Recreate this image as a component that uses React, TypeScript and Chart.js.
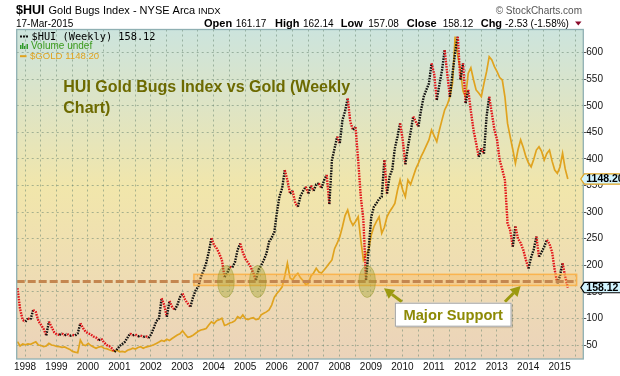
import React, { useEffect, useRef } from 'react';
import { Chart, registerables } from 'chart.js';

Chart.register(...registerables);

const FONT = '"Liberation Sans", Arial, Helvetica, sans-serif';

// Monthly samples, starting at SERIES_START (fractional year)
const SERIES_START = 1997.76;
const SERIES_STEP = 1 / 12;

const HUI = [
  157, 118, 97,
  94, 100, 98, 116, 112, 95, 88, 80, 68, 94, 84, 74,
  70, 69, 72, 68, 71, 67, 69, 68, 72, 91, 82, 75,
  72, 70, 66, 64, 59, 62, 55, 50, 48, 44, 37, 42,
  48, 52, 56, 64, 72, 68, 70, 66, 68, 65, 67, 63,
  70, 82, 95, 100, 138, 125, 103, 133, 122, 116, 125, 140,
  147, 135, 128, 122, 140, 153, 160, 178, 190, 204, 225, 251,
  238, 232, 222, 210, 178, 185, 197, 196, 206, 229, 241, 224,
  212, 205, 197, 185, 172, 192, 200, 210, 222, 244, 252, 262,
  300, 330, 345, 379, 360, 335, 340, 317, 310, 330, 340, 348,
  335, 350, 340, 352, 354, 345, 360, 370, 315, 398, 420, 442,
  430, 473, 490, 514, 470, 455, 460, 398, 329, 285, 172, 230,
  291, 310, 317, 325, 329, 398, 335, 367, 380, 420, 442, 467,
  436, 390, 423, 450, 480, 470, 461, 492, 517, 530, 542, 580,
  560, 511, 540, 567, 605, 560, 517, 561, 600, 630, 549, 580,
  505, 530, 490, 455, 430, 404, 420, 410, 480, 517, 486, 455,
  436, 398, 380, 360, 279, 266, 235, 273, 250, 242, 229, 210,
  194, 215, 230, 254, 216, 225, 235, 248, 240, 225, 191, 166,
  180, 204, 179, 158,
];

const GOLD = [
  312, 290, 300,
  296, 300, 298, 305, 311, 295, 292, 286, 290, 303, 295, 292,
  287, 286, 283, 285, 278, 272, 262, 258, 255, 320, 296, 292,
  303, 292, 285, 278, 284, 288, 278, 276, 270, 266, 262, 268,
  260, 262, 258, 268, 272, 278, 274, 282, 286, 278, 284, 288,
  291, 296, 303, 310, 318, 314, 324, 318, 328, 337, 346, 352,
  368, 350, 334, 338, 345, 355, 365, 372, 375, 380, 398, 414,
  405, 420, 425, 432, 395, 400, 408, 412, 420, 440, 432, 449,
  430, 425, 432, 435, 425, 428, 450, 458, 465, 475, 500, 540,
  560, 575, 594, 650, 715, 640, 629, 650, 663, 640, 625, 605,
  612, 650, 665, 689, 670, 665, 680, 697, 715, 732, 790, 818,
  852, 903, 960, 989, 937, 910, 930, 954, 835, 732, 760, 783,
  860, 903, 930, 954, 869, 900, 954, 980, 1000, 1023, 1090, 1143,
  1092, 1057, 1143, 1120, 1160, 1200, 1230, 1263, 1290, 1320, 1349, 1400,
  1370, 1340, 1400, 1452, 1503, 1530, 1571, 1640, 1880, 1780, 1709, 1600,
  1571, 1692, 1720, 1660, 1606, 1590, 1571, 1640, 1700, 1777, 1760, 1726,
  1700, 1670, 1657, 1571, 1434, 1366, 1300, 1229, 1300, 1349, 1310, 1263,
  1230, 1211, 1250, 1297, 1314, 1290, 1246, 1280, 1297, 1240, 1194, 1177,
  1210, 1280, 1200, 1148,
];

const YEAR_LABELS = [1998, 1999, 2000, 2001, 2002, 2003, 2004, 2005, 2006, 2007, 2008, 2009, 2010, 2011, 2012, 2013, 2014, 2015];
const PRICE_TICKS = [50, 100, 150, 200, 250, 300, 350, 400, 450, 500, 550, 600];

const HUI_LAST = 158.12;
const GOLD_LAST = 1148.2;

const X_RANGE = [1997.736, 2015.752];
const HUI_RANGE = [23.7, 643.6];
const GOLD_RANGE = [222.8, 1916.8];

const SUPPORT_LEVEL = 169.5;
const SUPPORT_BAND = [162, 183];
const SUPPORT_SPAN = [2003.37, 2015.54];
const SUPPORT_TOUCHES = [2004.39, 2005.4, 2008.88];
const TOUCH_RADIUS = [0.265, 30];
const NOTE_BOX = [2009.76, 2013.47, 129.6, 84.5];
const NOTE_ARROWS = [
  [2009.98, 131.4, 2009.415, 156.7],
  [2013.26, 131.4, 2013.76, 161.1],
];

function txt(ctx: any, s: string, x: number, y: number, font: string, color: string, align: any = 'left') {
  ctx.font = font;
  ctx.fillStyle = color;
  ctx.textAlign = align;
  ctx.textBaseline = 'alphabetic';
  ctx.fillText(s, x, y);
}

function arrow(ctx: any, x0: number, y0: number, x1: number, y1: number, color: string) {
  const ang = Math.atan2(y1 - y0, x1 - x0);
  const head = 10;
  const hw = 5.5;
  const bx = x1 - Math.cos(ang) * head;
  const by = y1 - Math.sin(ang) * head;
  ctx.strokeStyle = color;
  ctx.lineWidth = 3;
  ctx.beginPath();
  ctx.moveTo(x0, y0);
  ctx.lineTo(bx, by);
  ctx.stroke();
  ctx.fillStyle = color;
  ctx.beginPath();
  ctx.moveTo(x1, y1);
  ctx.lineTo(bx + Math.sin(ang) * hw, by - Math.cos(ang) * hw);
  ctx.lineTo(bx - Math.sin(ang) * hw, by + Math.cos(ang) * hw);
  ctx.closePath();
  ctx.fill();
}

function badge(ctx: any, right: number, y: number, label: string, border: string) {
  const tip = right - 2.5;
  const l = right + 1;
  const r = right + 40;
  const h = 5.2;
  ctx.beginPath();
  ctx.moveTo(tip, y);
  ctx.lineTo(l, y - h);
  ctx.lineTo(r, y - h);
  ctx.lineTo(r, y + h);
  ctx.lineTo(l, y + h);
  ctx.closePath();
  ctx.fillStyle = '#d2f4ff';
  ctx.fill();
  ctx.strokeStyle = border;
  ctx.lineWidth = 1.2;
  ctx.stroke();
  ctx.font = 'bold 10.5px ' + FONT;
  ctx.fillStyle = '#000';
  ctx.textAlign = 'left';
  ctx.textBaseline = 'middle';
  ctx.fillText(label, l + 2, y + 0.5);
}

const decor = {
  id: 'decor',
  beforeDraw(chart: any) {
    const { ctx, chartArea: a } = chart;
    ctx.save();
    ctx.fillStyle = '#ffffff';
    ctx.fillRect(0, 0, chart.width, chart.height);
    const g = ctx.createLinearGradient(0, a.top, 0, a.bottom);
    g.addColorStop(0, '#cce4dd');
    g.addColorStop(0.22, '#dde4c6');
    g.addColorStop(0.48, '#f1e6ab');
    g.addColorStop(0.7, '#efdeb2');
    g.addColorStop(1, '#ebd3ba');
    ctx.fillStyle = g;
    ctx.fillRect(a.left, a.top, a.right - a.left, a.bottom - a.top);
    ctx.restore();
  },
  afterDatasetsDraw(chart: any) {
    const { ctx, chartArea: a } = chart;
    const xs = chart.scales.x;
    const ys = chart.scales.y;
    ctx.save();
    const bx0 = xs.getPixelForValue(SUPPORT_SPAN[0]);
    const bx1 = xs.getPixelForValue(SUPPORT_SPAN[1]);
    const by0 = ys.getPixelForValue(SUPPORT_BAND[1]);
    const by1 = ys.getPixelForValue(SUPPORT_BAND[0]);
    ctx.fillStyle = 'rgba(255,178,70,0.32)';
    ctx.fillRect(bx0, by0, bx1 - bx0, by1 - by0);
    ctx.strokeStyle = 'rgba(252,172,60,0.8)';
    ctx.lineWidth = 1.5;
    ctx.strokeRect(bx0, by0, bx1 - bx0, by1 - by0);

    const sy = ys.getPixelForValue(SUPPORT_LEVEL);
    ctx.setLineDash([8, 3]);
    ctx.strokeStyle = '#c4864f';
    ctx.lineWidth = 3;
    ctx.beginPath();
    ctx.moveTo(a.left, sy);
    ctx.lineTo(bx1 - 3, sy);
    ctx.stroke();
    ctx.setLineDash([]);

    for (const t of SUPPORT_TOUCHES) {
      const cx = xs.getPixelForValue(t);
      const rx = cx - xs.getPixelForValue(t - TOUCH_RADIUS[0]);
      const ry = ys.getPixelForValue(SUPPORT_LEVEL - TOUCH_RADIUS[1]) - sy;
      ctx.beginPath();
      ctx.ellipse(cx, sy, rx, ry, 0, 0, Math.PI * 2);
      ctx.fillStyle = 'rgba(160,160,45,0.4)';
      ctx.fill();
      ctx.strokeStyle = 'rgba(150,150,40,0.45)';
      ctx.lineWidth = 1;
      ctx.stroke();
    }
    ctx.restore();
  },
  afterDraw(chart: any) {
    const { ctx, chartArea: a } = chart;
    const xs = chart.scales.x;
    const ys = chart.scales.y;
    const yg = chart.scales.yg;
    ctx.save();

    // frame
    ctx.strokeStyle = '#8fb0b3';
    ctx.lineWidth = 1.3;
    ctx.strokeRect(a.left, a.top, a.right - a.left, a.bottom - a.top);

    // header
    txt(ctx, '$HUI', 16, 13.5, 'bold 12.5px ' + FONT, '#000');
    txt(ctx, 'Gold Bugs Index - NYSE Arca', 48.5, 13.5, '11px ' + FONT, '#000');
    txt(ctx, 'INDX', 198, 13.5, '9.5px ' + FONT, '#000');
    txt(ctx, '\u00A9 StockCharts.com', 582, 13.5, '10px ' + FONT, '#555', 'right');
    txt(ctx, '17-Mar-2015', 16, 26.5, '10px ' + FONT, '#000');
    txt(ctx, 'Open', 204, 26.5, 'bold 11px ' + FONT, '#000');
    txt(ctx, '161.17', 235.7, 26.5, '10px ' + FONT, '#000');
    txt(ctx, 'High', 275, 26.5, 'bold 11px ' + FONT, '#000');
    txt(ctx, '162.14', 303, 26.5, '10px ' + FONT, '#000');
    txt(ctx, 'Low', 340.7, 26.5, 'bold 11px ' + FONT, '#000');
    txt(ctx, '157.08', 368.3, 26.5, '10px ' + FONT, '#000');
    txt(ctx, 'Close', 406.7, 26.5, 'bold 11px ' + FONT, '#000');
    txt(ctx, '158.12', 442.7, 26.5, '10px ' + FONT, '#000');
    txt(ctx, 'Chg', 480.7, 26.5, 'bold 11px ' + FONT, '#000');
    txt(ctx, '-2.53 (-1.58%)', 505, 26.5, '10px ' + FONT, '#000');
    ctx.fillStyle = '#8a0a2a';
    ctx.beginPath();
    ctx.moveTo(575, 21.5);
    ctx.lineTo(581.5, 21.5);
    ctx.lineTo(578.25, 25.5);
    ctx.closePath();
    ctx.fill();

    // legend
    ctx.fillStyle = '#111';
    for (const dx of [20, 23, 26]) ctx.fillRect(dx, 35.5, 2, 2);
    txt(ctx, '$HUI (Weekly) 158.12', 31.5, 39.5, '10.3px "DejaVu Sans Mono", monospace', '#000');
    ctx.fillStyle = '#2f9a2a';
    const bars = [[20, 4], [22, 6], [24, 3], [26.5, 5]];
    for (const [bx, bh] of bars) ctx.fillRect(bx, 49 - bh, 1.5, bh);
    txt(ctx, 'Volume undef', 31, 49.3, '10px ' + FONT, '#3a9a1c');
    ctx.fillStyle = '#e0a31f';
    ctx.fillRect(20, 55.2, 6.5, 2);
    txt(ctx, '$GOLD 1148.20', 30, 59.3, '9.6px ' + FONT, '#e0a31f');

    // title
    txt(ctx, 'HUI Gold Bugs Index vs Gold (Weekly', 63.3, 92.3, 'bold 16px ' + FONT, '#6d6a00');
    txt(ctx, 'Chart)', 63.3, 113.3, 'bold 16px ' + FONT, '#6d6a00');

    // note box
    const nx0 = xs.getPixelForValue(NOTE_BOX[0]);
    const nx1 = xs.getPixelForValue(NOTE_BOX[1]);
    const ny0 = ys.getPixelForValue(NOTE_BOX[2]);
    const ny1 = ys.getPixelForValue(NOTE_BOX[3]);
    for (const ar of NOTE_ARROWS) {
      arrow(ctx, xs.getPixelForValue(ar[0]), ys.getPixelForValue(ar[1]), xs.getPixelForValue(ar[2]), ys.getPixelForValue(ar[3]), '#9c9a10');
    }
    ctx.fillStyle = 'rgba(0,0,0,0.12)';
    ctx.fillRect(nx0 + 1.5, ny0 + 1.5, nx1 - nx0, ny1 - ny0);
    ctx.fillStyle = '#ffffff';
    ctx.fillRect(nx0, ny0, nx1 - nx0, ny1 - ny0);
    ctx.strokeStyle = '#a0a0a0';
    ctx.lineWidth = 1;
    ctx.strokeRect(nx0 + 0.5, ny0 + 0.5, nx1 - nx0 - 1, ny1 - ny0 - 1);
    txt(ctx, 'Major Support', (nx0 + nx1) / 2, ny0 + 17, 'bold 14.7px ' + FONT, '#8d8a05', 'center');

    // value badges
    badge(ctx, a.right, yg.getPixelForValue(GOLD_LAST), '1148.20', '#e0a31f');
    badge(ctx, a.right, ys.getPixelForValue(HUI_LAST), '158.12', '#000');

    ctx.restore();
  },
};

export default function App() {
  const ref = useRef<HTMLCanvasElement | null>(null);
  useEffect(() => {
    const canvas = ref.current;
    if (!canvas) return;
    const huiPts = HUI.map((v, i) => ({ x: SERIES_START + i * SERIES_STEP, y: v }));
    const goldPts = GOLD.map((v, i) => ({ x: SERIES_START + i * SERIES_STEP, y: v }));
    const gridTicks = YEAR_LABELS.flatMap((y) => [y, y + 0.5]);
    const gridColor = 'rgba(105,135,115,0.55)';
    const chart = new Chart(canvas, {
      type: 'line',
      data: {
        datasets: [
          {
            label: '$HUI (Weekly)',
            data: huiPts,
            yAxisID: 'y',
            borderColor: '#111',
            borderWidth: 2.4,
            borderDash: [1.6, 1.1],
            pointRadius: 0,
            tension: 0,
            segment: {
              borderColor: (c: any) => (c.p1.parsed.y >= c.p0.parsed.y ? '#111111' : '#e2141a'),
            },
          },
          {
            label: '$GOLD',
            data: goldPts,
            yAxisID: 'yg',
            borderColor: '#e0a31f',
            borderWidth: 1.7,
            pointRadius: 0,
            tension: 0,
          },
        ],
      },
      options: {
        animation: false,
        responsive: false,
        maintainAspectRatio: false,
        devicePixelRatio: 1,
        layout: { padding: { left: 16.7, top: 29.5, right: 0, bottom: 0 } },
        plugins: { legend: { display: false }, tooltip: { enabled: false } },
        scales: {
          x: {
            type: 'linear',
            position: 'bottom',
            min: X_RANGE[0],
            max: X_RANGE[1],
            afterBuildTicks: (s: any) => {
              s.ticks = gridTicks.map((v) => ({ value: v }));
            },
            afterFit: (s: any) => {
              s.height = 17;
            },
            ticks: {
              autoSkip: false,
              maxRotation: 0,
              padding: 2,
              color: '#111',
              font: { family: FONT, size: 10 },
              callback: (v: any) => (Number.isInteger(v) ? String(v) : ''),
            },
            grid: { color: gridColor, lineWidth: 1, drawTicks: false },
            border: { display: false, dash: [2, 3] },
          },
          y: {
            type: 'linear',
            position: 'right',
            min: HUI_RANGE[0],
            max: HUI_RANGE[1],
            afterBuildTicks: (s: any) => {
              s.ticks = PRICE_TICKS.map((v) => ({ value: v }));
            },
            afterFit: (s: any) => {
              s.width = 36.7;
            },
            ticks: {
              padding: 0,
              color: '#111',
              font: { family: FONT, size: 10 },
              callback: (v: any) => String(v),
            },
            grid: { color: gridColor, lineWidth: 1, drawTicks: true, tickLength: 3, tickColor: '#555', tickBorderDash: [] },
            border: { display: false, dash: [2, 3] },
          },
          yg: {
            type: 'linear',
            position: 'right',
            display: false,
            min: GOLD_RANGE[0],
            max: GOLD_RANGE[1],
          },
        },
      },
      plugins: [decor],
    } as any);
    return () => chart.destroy();
  }, []);

  return (
    <div style={{ position: 'fixed', left: 0, top: 0, width: 620, height: 376, background: '#fff' }}>
      <canvas ref={ref} width={620} height={376} style={{ width: 620, height: 376, display: 'block' }} />
    </div>
  );
}
